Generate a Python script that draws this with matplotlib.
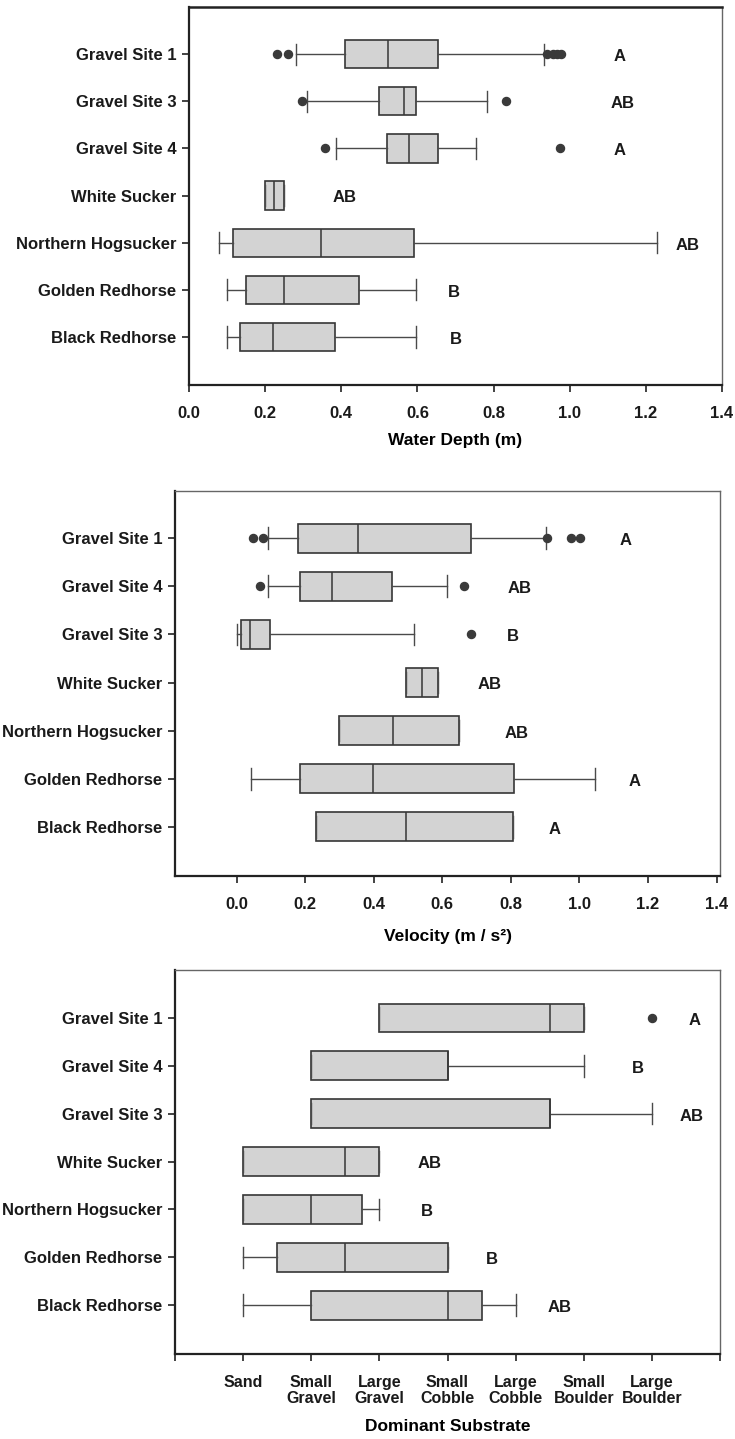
import matplotlib
matplotlib.use("Agg")
import matplotlib.pyplot as plt

plt.rcParams['font.family'] = ['Liberation Sans', 'DejaVu Sans']
plt.rcParams['font.weight'] = 'bold'

# ---------------- Panel 1: Water depth ----------------
depth_cats = ["Gravel Site 1", "Gravel Site 3", "Gravel Site 4", "White Sucker",
              "Northern Hogsucker", "Golden Redhorse", "Black Redhorse"]
depth_whislo = [0.28, 0.31, 0.387, 0.20, 0.078, 0.10, 0.10]
depth_q1 = [0.411, 0.50, 0.52, 0.20, 0.116, 0.15, 0.134]
depth_med = [0.523, 0.565, 0.578, 0.224, 0.347, 0.249, 0.22]
depth_q3 = [0.653, 0.597, 0.653, 0.249, 0.59, 0.447, 0.383]
depth_whishi = [0.932, 0.784, 0.754, 0.249, 1.228, 0.595, 0.595]
depth_fliers = [[0.23, 0.259, 0.94, 0.955, 0.967, 0.978], [0.298, 0.834],
                [0.356, 0.975], [], [], [], []]
depth_letters = ["A", "AB", "A", "AB", "AB", "B", "B"]
depth_letter_x = [1.13, 1.14, 1.13, 0.41, 1.31, 0.696, 0.70]
depth_xticks = [0.0, 0.2, 0.4, 0.6, 0.8, 1.0, 1.2, 1.4]

# ---------------- Panel 2: Velocity ----------------
vel_cats = ["Gravel Site 1", "Gravel Site 4", "Gravel Site 3", "White Sucker",
            "Northern Hogsucker", "Golden Redhorse", "Black Redhorse"]
vel_whislo = [0.09, 0.09, 0.0, 0.495, 0.298, 0.043, 0.23]
vel_q1 = [0.18, 0.184, 0.012, 0.495, 0.298, 0.185, 0.23]
vel_med = [0.354, 0.278, 0.038, 0.54, 0.457, 0.397, 0.495]
vel_q3 = [0.683, 0.452, 0.097, 0.586, 0.649, 0.808, 0.805]
vel_whishi = [0.903, 0.614, 0.518, 0.586, 0.649, 1.046, 0.805]
vel_fliers = [[0.047, 0.077, 0.906, 0.974, 1.003], [0.067, 0.664], [0.683],
              [], [], [], []]
vel_letters = ["A", "AB", "B", "AB", "AB", "A", "A"]
vel_letter_x = [1.134, 0.826, 0.805, 0.737, 0.817, 1.161, 0.926]
vel_xticks = [0.0, 0.2, 0.4, 0.6, 0.8, 1.0, 1.2, 1.4]

# ---------------- Panel 3: Substrate ----------------
sub_cats = ["Gravel Site 1", "Gravel Site 4", "Gravel Site 3", "White Sucker",
            "Northern Hogsucker", "Golden Redhorse", "Black Redhorse"]
sub_whislo = [3, 2, 2, 1, 1, 1, 1]
sub_q1 = [3, 2, 2, 1, 1, 1.5, 2]
sub_med = [5.5, 4, 5.5, 2.5, 2, 2.5, 4]
sub_q3 = [6, 4, 5.5, 3, 2.75, 4, 4.5]
sub_whishi = [6, 6, 7, 3, 3, 4, 5]
sub_fliers = [[7], [], [], [], [], [], []]
sub_letters = ["A", "B", "AB", "AB", "B", "B", "AB"]
sub_letter_x = [7.62, 6.8, 7.59, 3.73, 3.69, 4.65, 5.65]
sub_ticklabels = ["", "Sand", "Small\nGravel", "Large\nGravel", "Small\nCobble",
                  "Large\nCobble", "Small\nBoulder", "Large\nBoulder", ""]

BOX_FACE = '#d3d3d3'
EDGE = '#363636'
DARK = '#222222'


def draw_panel(ax, cats, wlo, q1, med, q3, whi, fliers, letters, letter_x):
    stats = []
    for i in range(len(cats)):
        stats.append(dict(whislo=wlo[i], q1=q1[i], med=med[i], q3=q3[i],
                          whishi=whi[i], fliers=fliers[i]))
    ax.bxp(stats, positions=list(range(len(cats))), orientation='horizontal',
           widths=0.6, capwidths=0.45, patch_artist=True, showfliers=True,
           boxprops=dict(facecolor=BOX_FACE, edgecolor=EDGE, linewidth=1.2),
           medianprops=dict(color=EDGE, linewidth=1.1),
           whiskerprops=dict(color='#4a4a4a', linewidth=1.0),
           capprops=dict(color='#4a4a4a', linewidth=1.0),
           flierprops=dict(marker='o', markerfacecolor='#3a3a3a',
                           markeredgecolor='#3a3a3a', markersize=5.8))
    for i, (lt, lx) in enumerate(zip(letters, letter_x)):
        ax.text(lx, i + 0.05, lt, ha='center', va='center', fontsize=12,
                fontweight='bold', color='#1a1a1a')
    ax.set_yticks(list(range(len(cats))))
    ax.set_yticklabels(cats)
    for s in ['left', 'bottom']:
        ax.spines[s].set_color(DARK)
        ax.spines[s].set_linewidth(1.6)
    for s in ['top', 'right']:
        ax.spines[s].set_color('#666666')
        ax.spines[s].set_linewidth(1.0)
    ax.tick_params(axis='both', direction='out', length=5, width=1.2,
                   color=DARK, labelsize=12, labelcolor='#1a1a1a')
    ax.tick_params(axis='x', pad=10)
    ax.tick_params(axis='y', pad=4)


fig = plt.figure(figsize=(7.35, 14.39), dpi=100)

ax1 = fig.add_axes([0.2571, 0.73245, 0.7252, 0.26269])
draw_panel(ax1, depth_cats, depth_whislo, depth_q1, depth_med, depth_q3,
           depth_whishi, depth_fliers, depth_letters, depth_letter_x)
ax1.set_xlim(0, 1.4)
ax1.set_ylim(7.02, -1.0)
ax1.set_xticks(depth_xticks)
ax1.set_xticklabels([f"{v:.1f}" for v in depth_xticks])
ax1.set_xlabel("Water Depth (m)", fontsize=12.5, fontweight='bold', labelpad=9)
ax1.spines['top'].set_color(DARK)
ax1.spines['top'].set_linewidth(1.8)

ax2 = fig.add_axes([0.2381, 0.39124, 0.7415, 0.26755])
draw_panel(ax2, vel_cats, vel_whislo, vel_q1, vel_med, vel_q3,
           vel_whishi, vel_fliers, vel_letters, vel_letter_x)
ax2.set_xlim(-0.18, 1.41)
ax2.set_ylim(7.02, -0.98)
ax2.set_xticks(vel_xticks)
ax2.set_xticklabels([f"{v:.1f}" for v in vel_xticks])
ax2.set_xlabel("Velocity (m / s²)", fontsize=12.5, fontweight='bold', labelpad=12)

ax3 = fig.add_axes([0.2381, 0.05907, 0.7415, 0.26685])
draw_panel(ax3, sub_cats, sub_whislo, sub_q1, sub_med, sub_q3,
           sub_whishi, sub_fliers, sub_letters, sub_letter_x)
ax3.set_xlim(0, 8)
ax3.set_ylim(7.02, -1.0)
ax3.set_xticks(list(range(9)))
ax3.set_xticklabels(sub_ticklabels, fontsize=11.5, linespacing=1.1)
ax3.set_xlabel("Dominant Substrate", fontsize=12.5, fontweight='bold', labelpad=9)

fig.savefig("out.png", dpi=100, facecolor='white')
